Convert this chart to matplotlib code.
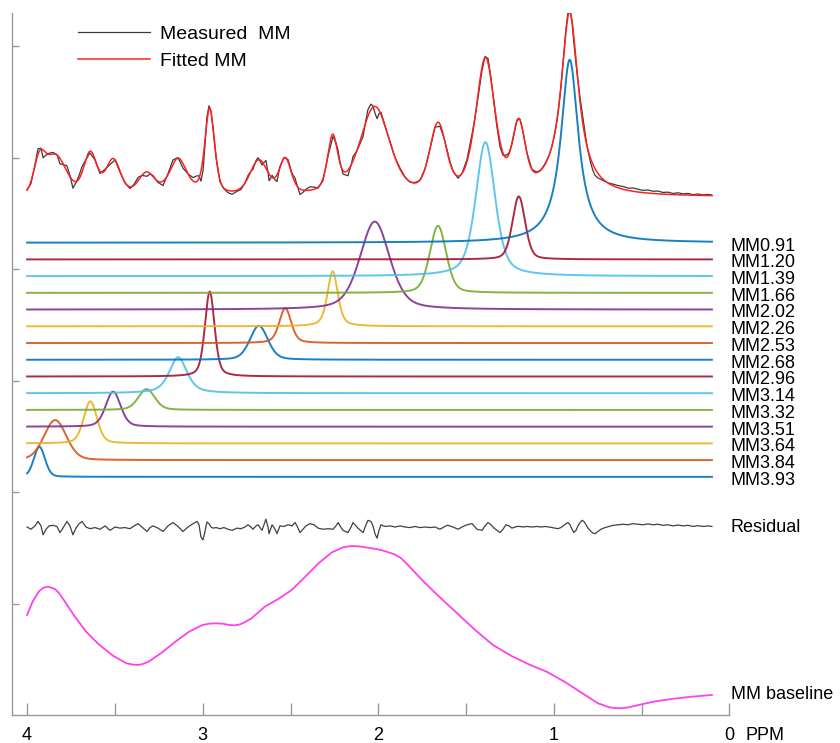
"""
Macromolecule (MM) spectrum fit: measured vs fitted, individual MM
components, residual and MM baseline.
"""

import matplotlib

matplotlib.use("Agg")
import matplotlib.pyplot as plt
import matplotlib.transforms as mtransforms
import numpy as np
from matplotlib import font_manager

# ---- data ------------------------------------------------------------------
# MM components: centre (ppm), amplitude, FWHM (ppm), Lorentzian fraction
MM_CENTERS = [0.91, 1.20, 1.39, 1.66, 2.02, 2.26, 2.53, 2.68,
              2.96, 3.14, 3.32, 3.51, 3.64, 3.84, 3.93]
MM_AMPS = [1.641, 0.565, 1.202, 0.601, 0.789, 0.493, 0.314, 0.305,
           0.762, 0.323, 0.188, 0.314, 0.377, 0.359, 0.269]
MM_FWHM = [0.120, 0.085, 0.130, 0.110, 0.200, 0.070, 0.080, 0.120,
           0.065, 0.120, 0.110, 0.100, 0.090, 0.150, 0.075]
MM_ETA = [1.0, 0.3, 0.5, 0.3, 0.4, 0.5, 0.4, 0.3,
          0.4, 0.6, 0.3, 0.3, 0.3, 0.2, 0.2]

# residual (measured - fitted)
RES_PPM = [4.000, 3.978, 3.955, 3.938, 3.921, 3.909, 3.892, 3.875, 3.853,
           3.830, 3.813, 3.796, 3.773, 3.756, 3.739, 3.722, 3.704, 3.687,
           3.665, 3.642, 3.613, 3.585, 3.556, 3.528, 3.499, 3.471, 3.443,
           3.414, 3.391, 3.368, 3.346, 3.317, 3.300, 3.283, 3.255, 3.226,
           3.198, 3.169, 3.141, 3.112, 3.084, 3.055, 3.032, 3.021, 3.010,
           2.998, 2.987, 2.976, 2.964, 2.953, 2.941, 2.924, 2.901, 2.879,
           2.856, 2.833, 2.805, 2.782, 2.759, 2.742, 2.725, 2.714, 2.696,
           2.685, 2.662, 2.651, 2.640, 2.628, 2.622, 2.611, 2.605, 2.588,
           2.577, 2.560, 2.537, 2.514, 2.491, 2.474, 2.463, 2.446, 2.429,
           2.412, 2.389, 2.366, 2.343, 2.315, 2.286, 2.258, 2.241, 2.229,
           2.218, 2.201, 2.173, 2.155, 2.144, 2.127, 2.116, 2.087, 2.070,
           2.059, 2.042, 2.030, 2.019, 2.007, 1.996, 1.985, 1.962, 1.933,
           1.905, 1.876, 1.848, 1.819, 1.791, 1.763, 1.734, 1.706, 1.677,
           1.649, 1.626, 1.609, 1.592, 1.575, 1.546, 1.523, 1.495, 1.466,
           1.449, 1.438, 1.409, 1.392, 1.375, 1.358, 1.341, 1.324, 1.307,
           1.290, 1.273, 1.256, 1.239, 1.210, 1.193, 1.176, 1.153, 1.125,
           1.096, 1.073, 1.051, 1.028, 1.011, 0.994, 0.977, 0.960, 0.948,
           0.931, 0.920, 0.908, 0.897, 0.886, 0.874, 0.863, 0.851, 0.840,
           0.829, 0.817, 0.806, 0.789, 0.777, 0.766, 0.749, 0.732, 0.709,
           0.686, 0.663, 0.635, 0.606, 0.578, 0.550, 0.521, 0.493, 0.464,
           0.436, 0.407, 0.379, 0.350, 0.322, 0.293, 0.265, 0.236, 0.208,
           0.179, 0.151, 0.122, 0.100]
RES_VAL = [0.000, -0.020, 0.010, 0.050, 0.010, -0.070, -0.020, 0.010, 0.015,
           0.005, -0.050, -0.010, 0.050, 0.010, -0.070, -0.010, 0.030, 0.050,
           0.000, -0.015, -0.005, -0.020, 0.010, -0.030, 0.000, -0.010, -0.005,
           -0.015, 0.010, 0.030, 0.000, -0.040, -0.005, 0.010, -0.010, -0.040,
           0.010, 0.040, 0.005, -0.040, 0.000, 0.030, 0.050, 0.020, -0.090,
           -0.115, -0.040, 0.045, 0.030, 0.000, -0.010, -0.005, -0.015, -0.005,
           -0.020, -0.030, -0.010, -0.015, 0.000, 0.020, 0.000, -0.020, 0.010,
           0.020, -0.030, 0.020, 0.070, 0.000, -0.060, -0.010, 0.020, -0.020,
           -0.060, 0.010, 0.005, 0.020, 0.010, 0.040, 0.010, -0.050, -0.020,
           0.010, 0.030, 0.020, -0.010, -0.020, -0.015, -0.020, 0.010, 0.040,
           0.010, -0.030, -0.050, 0.000, 0.040, 0.010, -0.010, -0.050, 0.020,
           0.060, 0.050, 0.010, -0.060, -0.100, -0.030, 0.020, 0.005, 0.010,
           0.000, 0.010, 0.000, -0.005, 0.005, -0.005, 0.000, -0.005, 0.000,
           -0.020, 0.000, 0.015, 0.010, 0.000, -0.020, 0.000, 0.020, 0.030,
           0.000, -0.020, -0.030, 0.010, 0.040, 0.020, -0.010, -0.030, -0.050,
           -0.020, 0.020, 0.010, -0.010, 0.005, 0.005, 0.000, 0.005, 0.000,
           0.005, 0.000, 0.005, 0.000, -0.005, -0.010, -0.015, -0.005, 0.010,
           0.030, 0.040, 0.020, -0.020, -0.050, -0.030, 0.010, 0.040, 0.060,
           0.050, 0.020, -0.010, -0.040, -0.055, -0.060, -0.040, -0.020, -0.005,
           0.005, 0.015, 0.020, 0.025, 0.020, 0.030, 0.025, 0.020, 0.028,
           0.020, 0.025, 0.015, 0.020, 0.010, 0.018, 0.010, 0.015, 0.005,
           0.012, 0.005, 0.010, 0.005]

# MM baseline
BASE_PPM = [4.000, 3.969, 3.931, 3.906, 3.880, 3.842, 3.817, 3.791, 3.766,
            3.728, 3.664, 3.588, 3.511, 3.435, 3.397, 3.371, 3.346, 3.308,
            3.231, 3.155, 3.078, 3.002, 2.964, 2.926, 2.887, 2.849, 2.817,
            2.786, 2.761, 2.722, 2.646, 2.569, 2.493, 2.416, 2.340, 2.264,
            2.200, 2.167, 2.136, 2.098, 2.060, 1.984, 1.907, 1.869, 1.831,
            1.742, 1.653, 1.551, 1.449, 1.347, 1.245, 1.144, 1.042, 0.940,
            0.838, 0.749, 0.685, 0.655, 0.622, 0.583, 0.533, 0.431, 0.329,
            0.227, 0.100]
BASE_VAL = [0.843, 0.962, 1.058, 1.088, 1.097, 1.076, 1.037, 0.978, 0.918,
            0.828, 0.693, 0.574, 0.478, 0.410, 0.398, 0.395, 0.401, 0.424,
            0.508, 0.604, 0.693, 0.753, 0.765, 0.768, 0.765, 0.753, 0.750,
            0.759, 0.778, 0.813, 0.918, 0.987, 1.067, 1.187, 1.307, 1.405,
            1.450, 1.459, 1.462, 1.456, 1.447, 1.426, 1.387, 1.351, 1.291,
            1.142, 1.007, 0.858, 0.709, 0.574, 0.478, 0.401, 0.335, 0.245,
            0.141, 0.051, 0.015, 0.009, 0.006, 0.012, 0.030, 0.066, 0.090,
            0.108, 0.126]

# ---- layout -----------------------------------------------------------------
FIT_OFFSET = 4.646
TOP_COMPONENT_OFFSET = 4.236
COMPONENT_STEP = 0.150
RES_OFFSET = 1.686
BASE_OFFSET = 0.054

MATLAB_COLORS = ["#0072BD", "#D95319", "#EDB120", "#7E2F8E",
                 "#77AC30", "#4DBEEE", "#A2142F"]

installed = {f.name for f in font_manager.fontManager.ttflist}
FONT = "Liberation Sans" if "Liberation Sans" in installed else "DejaVu Sans"
plt.rcParams["font.family"] = [FONT, "DejaVu Sans"]


def pseudo_voigt(x, center, amp, fwhm, eta):
    u = ((x - center) / (fwhm / 2.0)) ** 2
    return amp * (eta / (1.0 + u) + (1.0 - eta) * np.exp(-np.log(2.0) * u))


def fitted(x):
    total = np.zeros_like(x)
    for c, a, w, e in zip(MM_CENTERS, MM_AMPS, MM_FWHM, MM_ETA):
        total += pseudo_voigt(x, c, a, w, e)
    return total


def main() -> None:
    fig = plt.figure(figsize=(8.4, 7.43), dpi=100)
    ax = fig.add_axes([12 / 840, 28 / 743, 717.5 / 840, 702 / 743])

    grid = np.linspace(4.0, 0.1, 2500)
    res_ppm = np.array(RES_PPM)
    res_val = np.array(RES_VAL)

    measured_line, = ax.plot(res_ppm, fitted(res_ppm) + res_val + FIT_OFFSET,
                             color="#3a3a3a", lw=0.9, label="Measured  MM")
    fitted_line, = ax.plot(grid, fitted(grid) + FIT_OFFSET,
                           color="#ff2020", lw=1.1, label="Fitted MM")

    label_tf = mtransforms.blended_transform_factory(ax.transAxes, ax.transData)
    n = len(MM_CENTERS)
    # draw from the bottom (highest ppm) up, cycling the MATLAB colour order
    for k in range(n):
        i = n - 1 - k
        offset = TOP_COMPONENT_OFFSET - COMPONENT_STEP * i
        y = pseudo_voigt(grid, MM_CENTERS[i], MM_AMPS[i], MM_FWHM[i], MM_ETA[i])
        ax.plot(grid, y + offset, color=MATLAB_COLORS[k % 7], lw=1.4, alpha=0.9)
        ax.text(1.002, offset - 0.03, f"MM{MM_CENTERS[i]:.2f}",
                transform=label_tf, fontsize=13, va="center", ha="left",
                clip_on=False)

    ax.plot(res_ppm, res_val + RES_OFFSET, color="#404040", lw=0.9)
    ax.text(1.002, RES_OFFSET, "Residual", transform=label_tf, fontsize=13,
            va="center", ha="left", clip_on=False)

    ax.plot(BASE_PPM, np.array(BASE_VAL) + BASE_OFFSET, color="#ff40f0", lw=1.3)
    ax.text(1.002, BASE_VAL[-1] + BASE_OFFSET, "MM baseline",
            transform=label_tf, fontsize=13, va="center", ha="left",
            clip_on=False)

    ax.set_xlim(4.086, 0.0)
    ax.set_ylim(0.0, 6.296)

    ticks = np.arange(0.0, 4.01, 0.5)
    ax.set_xticks(ticks)
    ax.set_xticklabels([f"{t:.0f}" if t % 1 == 0 else "" for t in ticks])
    ax.set_yticks(np.arange(1, 7))
    ax.set_yticklabels([])
    ax.tick_params(axis="x", direction="in", length=9, width=1,
                   color="#999999", labelsize=13, pad=9)
    ax.tick_params(axis="y", direction="in", length=5, width=1,
                   color="#999999")
    for side in ("top", "right"):
        ax.spines[side].set_visible(False)
    for side in ("left", "bottom"):
        ax.spines[side].set_color("#999999")
        ax.spines[side].set_linewidth(1.0)

    ax.text(1.022, -0.017, "PPM", transform=ax.transAxes, fontsize=13,
            va="top", ha="left", clip_on=False)

    ax.legend(handles=[measured_line, fitted_line], loc="upper left",
              bbox_to_anchor=(0.092, 0.983), frameon=False, fontsize=14,
              handlelength=3.7, handletextpad=0.5, labelspacing=0.5,
              borderpad=0.0, borderaxespad=0.0)

    fig.savefig("out.png", dpi=100)


if __name__ == "__main__":
    main()
